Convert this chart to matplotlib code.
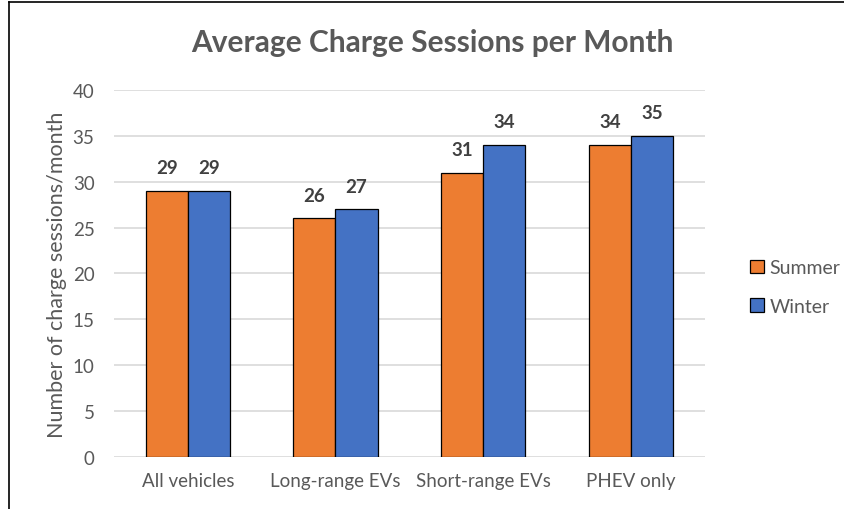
import numpy as np
import matplotlib
matplotlib.use('Agg')
import matplotlib.pyplot as plt
from matplotlib.lines import Line2D
from matplotlib.patches import Patch

plt.rcParams['font.family'] = ['Lato', 'DejaVu Sans']

categories = ['All vehicles', 'Long-range EVs', 'Short-range EVs', 'PHEV only']
summer = [29, 26, 31, 34]
winter = [29, 27, 34, 35]
yticks = [0, 5, 10, 15, 20, 25, 30, 35, 40]

orange = '#ED7D31'
blue = '#4472C4'
grey = '#595959'

fig = plt.figure(figsize=(8.44, 5.10), dpi=100)
ax = fig.add_axes([0.135, 0.102, 0.700, 0.7196])

x = np.arange(len(categories))
w = 0.285
b1 = ax.bar(x - w/2, summer, w, color=orange, edgecolor='black', linewidth=0.9, zorder=3, label='Summer')
b2 = ax.bar(x + w/2, winter, w, color=blue, edgecolor='black', linewidth=0.9, zorder=3, label='Winter')

for bars, vals in ((b1, summer), (b2, winter)):
    for r, v in zip(bars, vals):
        ax.text(r.get_x() + r.get_width()/2, v + 1.6, str(v), ha='center', va='bottom',
                fontsize=13.5, fontweight='bold', color='#404040')

ax.set_xlim(-0.5, len(categories) - 0.5)
ax.set_ylim(0, 40)
ax.set_yticks(yticks)
ax.set_xticks(x)
ax.set_xticklabels(categories)
ax.yaxis.grid(True, color='#D9D9D9', linewidth=1.2, zorder=0)
for s in ax.spines.values():
    s.set_visible(False)
ax.tick_params(length=0, labelsize=13.5, labelcolor=grey)
ax.tick_params(axis='y', pad=14)
ax.tick_params(axis='x', pad=11)
ax.set_ylabel('Number of charge sessions/month', fontsize=15.5, color=grey, labelpad=4)

fig.text(0.512, 0.916, 'Average Charge Sessions per Month', ha='center', va='center',
         fontsize=21.5, fontweight='bold', color=grey)

handles = [Patch(facecolor=orange, edgecolor='black', linewidth=0.9, label='Summer'),
           Patch(facecolor=blue, edgecolor='black', linewidth=0.9, label='Winter')]
fig.legend(handles=handles, loc='center left', bbox_to_anchor=(0.868, 0.435), frameon=False,
           fontsize=14, labelcolor=grey, handlelength=0.7, handleheight=0.7,
           handletextpad=0.3, labelspacing=1.1)

fig.add_artist(Line2D([0.011, 1.0], [0.994, 0.994], color='black', linewidth=1.2))
fig.add_artist(Line2D([0.011, 0.011], [0.0, 0.994], color='black', linewidth=1.2))

fig.savefig('out.png', dpi=100)
